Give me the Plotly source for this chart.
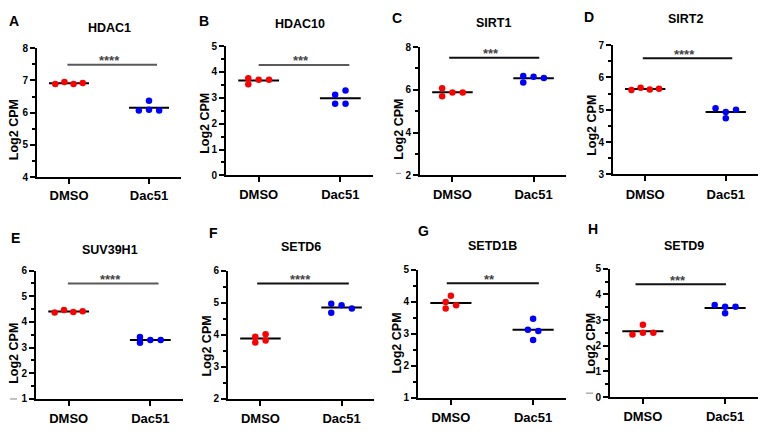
import numpy as np
import plotly.graph_objects as go

# ---------------- data ----------------
genes = ["HDAC1", "HDAC10", "SIRT1", "SIRT2", "SUV39H1", "SETD6", "SETD1B", "SETD9"]
panel_letters = ["A", "B", "C", "D", "E", "F", "G", "H"]
groups = ["DMSO", "Dac51"]

dmso_values = [
    [6.89, 6.95, 6.89, 6.92],
    [3.76, 3.52, 3.70, 3.70],
    [6.07, 5.70, 5.88, 5.88],
    [5.61, 5.68, 5.63, 5.65],
    [4.37, 4.47, 4.39, 4.42],
    [3.94, 3.76, 4.02, 3.82],
    [3.99, 3.79, 4.19, 3.89],
    [2.44, 2.82, 2.50, 2.50],
]
dac51_values = [
    [6.07, 6.37, 6.09, 6.07],
    [3.12, 2.77, 3.28, 2.77],
    [6.65, 6.34, 6.61, 6.55],
    [5.05, 4.93, 4.74, 5.00],
    [3.41, 3.19, 3.30, 3.30],
    [4.97, 4.69, 4.92, 4.82],
    [3.47, 3.13, 3.09, 2.81],
    [3.59, 3.52, 3.26, 3.52],
]
y_ranges = [[4, 8], [0, 5], [2, 8], [3, 7], [1, 6], [2, 6], [1, 5], [0, 5]]
y_dticks = [1, 1, 2, 1, 1, 1, 1, 1]
sig_levels = [7.48, 4.27, 7.50, 6.59, 5.50, 5.60, 4.58, 4.39]
sig_stars = ["****", "***", "***", "****", "****", "****", "**", "***"]

# ---------------- layout / style ----------------
W, H = 768, 431
PAGE_OFF = 8  # default page margin of the html body
FONT = "Liberation Sans, Arial, sans-serif"
# plot boxes in pixels of the target picture: left, top, width, height
boxes = [
    (37, 43, 144, 133), (226, 41, 147, 133), (420, 42, 146, 132), (613, 40, 145, 133),
    (36, 272, 147, 132), (228, 272, 146, 132), (418, 271, 148, 132), (610, 270, 148, 132),
]
title_y = [22, 18, 17, 13, 251, 248, 247, 247]
letter_xy = [(14, 15), (204, 15), (397, 12), (589, 11), (15, 238), (213, 233), (423, 231), (593, 229)]
ylabel_dx = [23.5, 21, 21, 21, 21.5, 21, 21, 19.5]
ylabel_cy = [127, 121, 127, 123, 357, 350, 347, 347]
xlabel_standoff = [0, 1, 1, 2, 1, 1, 1, 1]
sig_span = [(-0.02, 1.10), (0.0, 1.11), (-0.04, 1.07), (-0.03, 1.08),
            (-0.01, 1.10), (-0.04, 1.09), (-0.05, 1.07), (-0.09, 1.01)]
sig_colors = ["#5a5a5a", "#5a5a5a", "#111111", "#111111", "#5a5a5a", "#111111", "#111111", "#111111"]
# horizontal scatter slots (GraphPad-style spreading), in slot-width units
dmso_slots = [
    [-1.35, -0.45, 0.45, 1.35], [-1, -1, 0, 1], [-1, -1, 0, 1], [-1.35, -0.45, 0.45, 1.35],
    [-1.35, -0.45, 0.45, 1.35], [-0.5, -0.5, 0.5, 0.5], [-0.5, -0.5, 0, 0.5], [-1, 0, 0, 1],
]
dac51_slots = [
    [-1, 0, 0, 1], [-0.5, -0.5, 0.5, 0.5], [-1, -1, 0, 1], [-1, 0, 0, 1],
    [-1, -1, 0, 1], [-1, -1, 0, 1], [0, -0.5, 0.5, 0], [-1, 0, 0, 1],
]
SLOT = 0.127
MEAN_HALF = 0.25
dashes = {2: (396, 401, 172), 4: (10, 17, 404), 7: (586, 593, 398)}

colors = ["#ff0000", "#0000ff"]


def px(x):
    return (x - PAGE_OFF) / W


def py(y):
    return 1 - (y - PAGE_OFF) / H


fig = go.Figure()
annotations = []
shapes = []
layout = {}

for i in range(8):
    l, t, w, h = boxes[i]
    ax = "" if i == 0 else str(i + 1)
    xref, yref = "x" + ax, "y" + ax
    layout["xaxis" + ax] = dict(
        domain=[px(l), px(l + w)], anchor=yref, range=[-0.4, 1.4],
        showline=True, linecolor="black", linewidth=2, mirror=False,
        ticks="outside", ticklen=5, tickwidth=1.5, tickcolor="black",
        tickvals=[0, 1], ticktext=groups, ticklabelstandoff=xlabel_standoff[i],
        tickfont=dict(family=FONT, size=13, color="black", weight="bold"),
        showgrid=False, zeroline=False, fixedrange=True,
    )
    lo, hi = y_ranges[i]
    dt = y_dticks[i]
    layout["yaxis" + ax] = dict(
        domain=[py(t + h), py(t)], anchor=xref, range=[lo, hi],
        tick0=lo, dtick=dt,
        showline=True, linecolor="black", linewidth=2,
        ticks="outside", ticklen=5, tickwidth=1.5, tickcolor="black",
        minor=dict(ticks="outside", ticklen=3, tickwidth=1.5, tickcolor="black", dtick=dt / 2, tick0=lo),
        tickfont=dict(family=FONT, size=10, color="black", weight="bold"),
        showgrid=False, zeroline=False, fixedrange=True,
    )

    pairs = [(dmso_values[i], dmso_slots[i]), (dac51_values[i], dac51_slots[i])]
    for g, (vals, slots) in enumerate(pairs):
        m = float(np.mean(vals))
        fig.add_trace(go.Scatter(
            x=[g - MEAN_HALF, g + MEAN_HALF], y=[m, m], mode="lines",
            line=dict(color="black", width=2), xaxis=xref, yaxis=yref,
            showlegend=False, hoverinfo="skip"))
    for g, (vals, slots) in enumerate(pairs):
        xs = [g + s * SLOT for s in slots]
        fig.add_trace(go.Scatter(
            x=xs, y=vals, mode="markers",
            marker=dict(color=colors[g], size=6.5, line=dict(width=0)),
            xaxis=xref, yaxis=yref, showlegend=False, name=groups[g]))

    # significance bar
    x0, x1 = sig_span[i]
    fig.add_trace(go.Scatter(
        x=[x0, x1], y=[sig_levels[i], sig_levels[i]], mode="lines",
        line=dict(color=sig_colors[i], width=2), xaxis=xref, yaxis=yref,
        showlegend=False, hoverinfo="skip"))
    annotations.append(dict(
        x=(x0 + x1) / 2, y=sig_levels[i], xref=xref, yref=yref,
        text=sig_stars[i], showarrow=False, yanchor="middle", yshift=4, xshift=-3,
        font=dict(family=FONT, size=13, color="#444444", weight="bold")))

    # title
    annotations.append(dict(
        x=px(l + w / 2), y=py(title_y[i]), xref="paper", yref="paper",
        text=genes[i], showarrow=False, xanchor="center", yanchor="middle",
        font=dict(family=FONT, size=12.5, color="black", weight="bold")))
    # panel letter
    lx, ly = letter_xy[i]
    annotations.append(dict(
        x=px(lx), y=py(ly), xref="paper", yref="paper",
        text=panel_letters[i], showarrow=False, xanchor="center", yanchor="middle",
        font=dict(family=FONT, size=14, color="black", weight="bold")))
    # y axis title
    annotations.append(dict(
        x=px(l - ylabel_dx[i]), y=py(ylabel_cy[i]), xref="paper", yref="paper",
        text="Log2 CPM", showarrow=False, textangle=-90, xanchor="center", yanchor="middle",
        font=dict(family=FONT, size=12.5, color="black", weight="bold")))

    if i in dashes:
        dx0, dx1, dy = dashes[i]
        shapes.append(dict(type="line", xref="paper", yref="paper",
                           x0=px(dx0), x1=px(dx1), y0=py(dy), y1=py(dy),
                           line=dict(color="#9a9a9a", width=1.2)))

fig.update_layout(
    width=W, height=H, autosize=False,
    margin=dict(l=0, r=0, t=0, b=0),
    paper_bgcolor="white", plot_bgcolor="white",
    annotations=annotations, shapes=shapes, showlegend=False,
    **layout,
)

fig.write_html("out.html")
